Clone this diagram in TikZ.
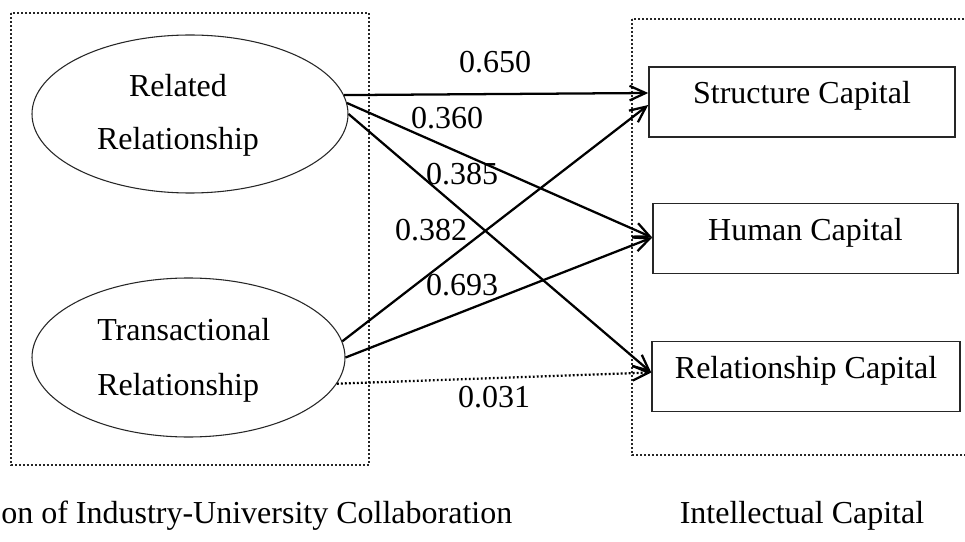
\documentclass[tikz,border=0pt]{standalone}
\usepackage{fontspec}
\setmainfont{Liberation Serif}
\usetikzlibrary{arrows.meta,calc,shapes.geometric}
\begin{document}
\begin{tikzpicture}[x=0.75pt,y=-0.75pt,
  every node/.style={font=\fontsize{24}{28}\selectfont},
  ell/.style={draw=black!85, line width=0.8pt, ellipse, inner sep=0pt, minimum width=237pt, minimum height=118.5pt},
  capbox/.style={draw=black!85, line width=1.1pt, rectangle, inner sep=0pt, text height=27.75pt, text depth=24.75pt},
  txt/.style={inner sep=0pt},
  grp/.style={line width=1.8pt, dash pattern=on 1.4pt off 1.6pt, black!85},
  arr/.style={line width=1.7pt, -{Straight Barb[length=12pt,width=11pt]}},
  coef/.style={inner sep=0pt, anchor=base}]
\fill[white] (0,0) rectangle (965,542);
\clip (0,0) rectangle (965,542);
\useasboundingbox (0,0) rectangle (965,542);

% group frames
\draw[grp] (11,13) rectangle (369,465);
\draw[grp] (632,19) rectangle (990,455);

% ellipses
\node[ell] (rr) at (190,114) {};
\node[ell, minimum width=234.75pt, minimum height=119.25pt] (tr) at (188.5,357.5) {};
\node[txt, anchor=base] (rrA) at (178,97) {Related};
\node[txt, anchor=base] (rrB) at (178,150) {Relationship};
\node[txt, anchor=base west] (trA) at (97,340) {Transactional};
\node[txt, anchor=base west] (trB) at (97,395) {Relationship};

% capital boxes
\node[capbox, minimum width=229.5pt] (sc) at (802,102) {Structure Capital};
\node[capbox, minimum width=228.75pt] (hc) at (805.5,238.5) {Human Capital};
\node[capbox, minimum width=231pt] (rc) at (806,376.5) {Relationship Capital};

% paths
\draw[arr] (rr.7.5) -- ($(sc.west)+(0,-9)$);
\draw[arr] (rr.4) -- ($(hc.west)+(0,-1)$);
\draw[arr] (rr.0.4) -- ($(rc.west)+(0,-4)$);
\draw[arr] (tr.6) -- ($(sc.west)+(0,3)$);
\draw[arr] (tr.0) -- ($(hc.west)+(0,-1)$);
\draw[arr, dash pattern=on 1.4pt off 1.6pt] (tr.350.6) -- ($(rc.west)+(0,-4)$);

% coefficients
\node[coef] (l1) at (495,73) {0.650};
\node[coef] (l2) at (447,129) {0.360};
\node[coef] (l3) at (462,185) {0.385};
\node[coef] (l4) at (431,240) {0.382};
\node[coef] (l5) at (462,295) {0.693};
\node[coef] (l6) at (494,407) {0.031};

% captions
\node[txt, anchor=base west] (dimcap) at (1,523) {on of Industry-University Collaboration};
\node[txt, anchor=base] (iccap) at (802,523) {Intellectual Capital};
\end{tikzpicture}
\end{document}
